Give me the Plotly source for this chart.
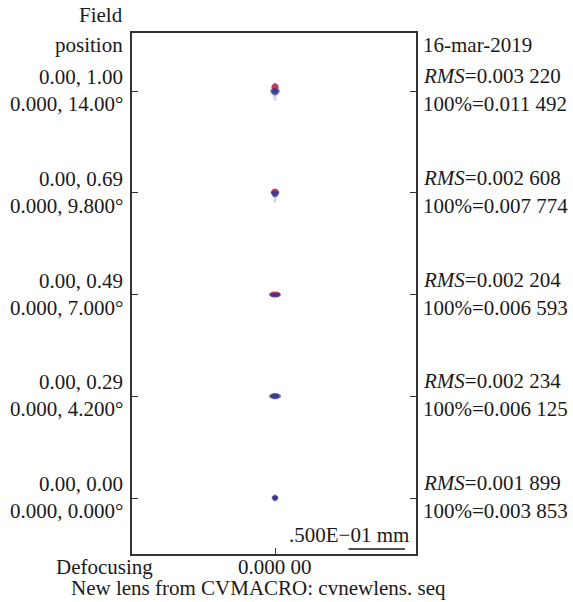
import plotly.graph_objects as go

# ---------------- data ----------------
field_rel = ["0.00, 0.00", "0.00, 0.29", "0.00, 0.49", "0.00, 0.69", "0.00, 1.00"]
field_ang = ["0.000, 0.000°", "0.000, 4.200°", "0.000, 7.000°", "0.000, 9.800°", "0.000, 14.00°"]
rms_vals = ["0.001 899", "0.002 234", "0.002 204", "0.002 608", "0.003 220"]
geo_vals = ["0.003 853", "0.006 125", "0.006 593", "0.007 774", "0.011 492"]
date_text = "16-mar-2019"
defocus_text = "0.000 00"
scale_text = ".500E\u221201 mm"
scale_bar_mm = 0.05
caption = "New lens from CVMACRO: cvnewlens. seq"

# ray intercepts (mm) relative to each field's chief ray, per wavelength
red_field = [4, 4, 4, 4, 4, 4, 4, 3, 3, 3, 3, 3, 3, 2, 2, 2, 2, 2, 2, 2, 2, 1, 1, 1, 0, 0]
red_dx = [-0.0012, 0.0, 0.0012, -0.0015, 0.0, 0.0015, 0.0,
          -0.0012, 0.0, 0.0012, -0.0018, 0.0018, 0.0,
          -0.0032, -0.0018, 0.0, 0.0018, 0.0032, -0.0018, 0.0, 0.0018,
          -0.002, 0.0, 0.002,
          -0.0008, 0.0008]
red_dy = [0.0045, 0.0052, 0.0045, 0.0030, 0.0035, 0.0030, 0.0022,
          0.0015, 0.0020, 0.0015, 0.0005, 0.0005, 0.0008,
          0.0, 0.0008, 0.0010, 0.0008, 0.0, -0.0008, -0.0010, -0.0008,
          0.0004, 0.0008, 0.0004,
          0.0005, 0.0005]

blue_field = [4, 4, 4, 4, 4, 4, 4, 4, 3, 3, 3, 3, 3, 3, 2, 2, 2, 2, 2,
              1, 1, 1, 1, 1, 1, 1, 1, 1, 0, 0, 0, 0, 0]
blue_dx = [-0.0025, -0.0012, 0.0, 0.0012, 0.0025, -0.0015, 0.0, 0.0015,
           -0.002, 0.0, 0.002, -0.0012, 0.0, 0.0012,
           -0.003, -0.0012, 0.0012, 0.003, 0.0,
           -0.0035, -0.0018, 0.0, 0.0018, 0.0035, -0.0018, 0.0, 0.0018, 0.0,
           0.0, -0.0013, 0.0, 0.0013, 0.0]
blue_dy = [0.0, 0.0006, 0.0008, 0.0006, 0.0, -0.0015, -0.0022, -0.0015,
           0.0, 0.0, 0.0, -0.0015, -0.0022, -0.0015,
           -0.0003, -0.0005, -0.0005, -0.0003, 0.0,
           0.0, 0.0009, 0.0011, 0.0009, 0.0, -0.0009, -0.0011, -0.0009, 0.0,
           0.0013, 0.0, 0.0, 0.0, -0.0013]

faint_field = [4, 4, 4, 4, 3, 3, 3, 3, 2, 2]
faint_dx = [-0.001, 0.001, -0.0005, 0.0008, -0.0008, 0.0008, 0.0, -0.0005, -0.004, 0.004]
faint_dy = [-0.0045, -0.0045, -0.0065, -0.0075, -0.004, -0.004, -0.006, -0.0075, 0.0, 0.0]

# ---------------- layout constants ----------------
FIELD_SPACING = 0.09  # mm between field rows in the diagram
FONT = "Liberation Serif, Times New Roman, serif"
FS = 21
TXT = "#1a1a1a"
AX = "#333333"


def rows(fields, dx, dy):
    xs = list(dx)
    ys = [f * FIELD_SPACING + d for f, d in zip(fields, dy)]
    return xs, ys


fig = go.Figure()

for fields, dx, dy, col, op, sz in [
    (faint_field, faint_dx, faint_dy, "#9fb0dc", 0.4, 3),
    (red_field, red_dx, red_dy, "#c4345a", 0.9, 4),
    (blue_field, blue_dx, blue_dy, "#2f3c92", 0.7, 4),
]:
    xs, ys = rows(fields, dx, dy)
    fig.add_trace(go.Scatter(x=xs, y=ys, mode="markers",
                             marker=dict(size=sz, color=col, opacity=op, line=dict(width=0)),
                             hoverinfo="skip", showlegend=False))

fig.update_xaxes(range=[-0.1265, 0.1247], showgrid=False, zeroline=False,
                 showline=True, linecolor=AX, linewidth=1.5, mirror=True,
                 ticks="inside", ticklen=6, tickwidth=1.2, tickcolor=AX,
                 tickvals=[0], showticklabels=False)
fig.update_yaxes(range=[-0.0495, 4 * FIELD_SPACING + 0.0513], showgrid=False, zeroline=False,
                 showline=True, linecolor=AX, linewidth=1.5, mirror="ticks",
                 ticks="inside", ticklen=6, tickwidth=1.2, tickcolor=AX,
                 tickvals=[k * FIELD_SPACING for k in range(len(field_rel))],
                 showticklabels=False)

ann = []
f = dict(family=FONT, size=FS, color=TXT)
for k in range(len(field_rel)):
    yk = k * FIELD_SPACING
    ann.append(dict(x=0, xref="paper", y=yk, yref="y", text=field_rel[k], xanchor="right",
                    yanchor="middle", xshift=-7, yshift=14, showarrow=False, font=f))
    ann.append(dict(x=0, xref="paper", y=yk, yref="y", text=field_ang[k], xanchor="right",
                    yanchor="middle", xshift=-7, yshift=-13, showarrow=False, font=f))
    ann.append(dict(x=1, xref="paper", y=yk, yref="y", text="<i>RMS</i>=" + rms_vals[k],
                    xanchor="left", yanchor="middle", xshift=5, yshift=15, showarrow=False, font=f))
    ann.append(dict(x=1, xref="paper", y=yk, yref="y", text="100%=" + geo_vals[k],
                    xanchor="left", yanchor="middle", xshift=5, yshift=-13, showarrow=False, font=f))

ann.append(dict(x=0, xref="paper", y=1, yref="paper", text="Field", xanchor="right",
                yanchor="middle", xshift=-7, yshift=18, showarrow=False, font=f))
ann.append(dict(x=0, xref="paper", y=1, yref="paper", text="position", xanchor="right",
                yanchor="middle", xshift=-7, yshift=-12, showarrow=False, font=f))
ann.append(dict(x=1, xref="paper", y=1, yref="paper", text=date_text, xanchor="left",
                yanchor="middle", xshift=5, yshift=-12, showarrow=False, font=f))
ann.append(dict(x=0, xref="paper", y=0, yref="paper", text="Defocusing", xanchor="left",
                yanchor="middle", xshift=-78, yshift=-13, showarrow=False, font=f))
ann.append(dict(x=0, xref="x", y=0, yref="paper", text=defocus_text, xanchor="center",
                yanchor="middle", yshift=-13, showarrow=False, font=f))
ann.append(dict(x=0, xref="paper", y=0, yref="paper", text=caption, xanchor="left",
                yanchor="middle", xshift=-63, yshift=-34, showarrow=False, font=f))
ann.append(dict(x=0.115, xref="x", y=0, yref="paper", text=scale_text, xanchor="right",
                yanchor="middle", xshift=6, yshift=19, showarrow=False, font=f))

fig.add_shape(type="line", xref="x", yref="paper", x0=0.115 - scale_bar_mm, x1=0.115,
              y0=0.0096, y1=0.0096, line=dict(color=TXT, width=1.3))

fig.update_layout(width=573, height=602, margin=dict(l=132, r=157, t=33, b=48),
                  paper_bgcolor="white", plot_bgcolor="white", annotations=ann)

fig.write_html("out.html", config={"displayModeBar": False},
               post_script="document.body.style.margin='0';document.body.style.overflow='hidden';")
